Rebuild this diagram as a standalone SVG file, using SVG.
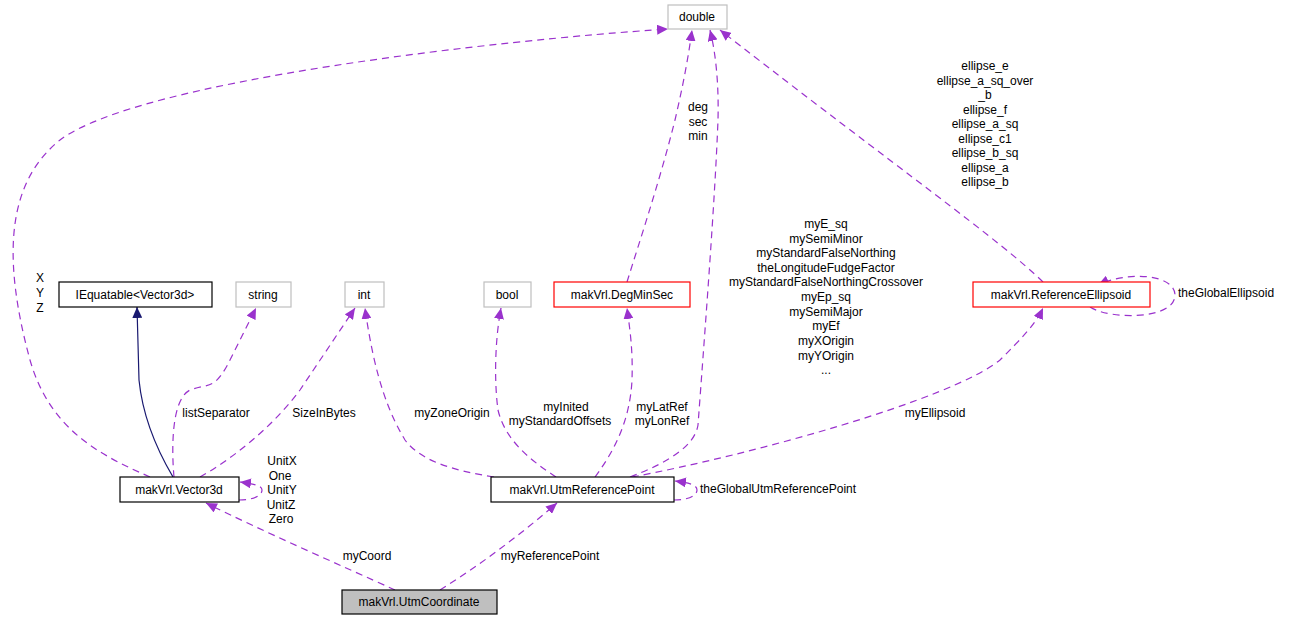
<svg xmlns="http://www.w3.org/2000/svg" width="1289" height="621" viewBox="0 0 1289 621">
<style>
text{font-family:"Liberation Sans",Arial,sans-serif;font-size:12px;fill:#000}
.c{text-anchor:middle}
.n{fill:#fff;stroke:#000;stroke-width:1.2}
.g{fill:#fff;stroke:#bfbfbf;stroke-width:1.2}
.r{fill:#fff;stroke:#ff0000;stroke-width:1.2}
.e{fill:none;stroke:#9a32cd;stroke-dasharray:7,5;stroke-width:1.2}
.s{fill:none;stroke:#191970;stroke-width:1.2}
</style>
<defs>
<marker id="p" markerWidth="12" markerHeight="10" refX="11" refY="5" orient="auto" markerUnits="userSpaceOnUse"><path d="M0,0 L11,5 L0,10 z" fill="#9a32cd"/></marker>
<marker id="b" markerWidth="12" markerHeight="10" refX="11" refY="5" orient="auto" markerUnits="userSpaceOnUse"><path d="M0,0 L11,5 L0,10 z" fill="#191970"/></marker>
</defs>
<g id="edges">
<path class="s" marker-end="url(#b)" d="M173,477 C160,455 143,420 139,380 L137,307"/>
<path class="e" marker-end="url(#p)" d="M174,477 C172,455 170,400 190,390 C210,383 215,390 230,360 L256,308"/>
<text class="c" x="216" y="417">listSeparator</text>
<path class="e" marker-end="url(#p)" d="M200,477 C230,460 270,430 300,390 L355,308"/>
<text class="c" x="324" y="417">SizeInBytes</text>
<path class="e" marker-end="url(#p)" d="M150,477 C100,455 50,430 30,360 C0,250 10,180 60,140 C140,80 500,40 668,29"/>
<text class="c" x="40" y="282">X</text><text class="c" x="40" y="297">Y</text><text class="c" x="40" y="312">Z</text>
<path class="e" marker-end="url(#p)" d="M239,500 C255,500 262,495 262,490 C262,486 255,484 240,482"/>
<text class="c" x="282" y="465">UnitX</text><text class="c" x="280" y="480">One</text><text class="c" x="282" y="494">UnitY</text><text class="c" x="281" y="509">UnitZ</text><text class="c" x="281" y="523">Zero</text>
<path class="e" marker-end="url(#p)" d="M395,590 C340,565 260,530 206,503"/>
<text class="c" x="367" y="560">myCoord</text>
<path class="e" marker-end="url(#p)" d="M440,590 C480,565 520,535 557,503"/>
<text class="c" x="550" y="560">myReferencePoint</text>
<path class="e" marker-end="url(#p)" d="M494,477 C450,470 420,460 405,440 C390,415 375,380 365,308"/>
<text class="c" x="452" y="417">myZoneOrigin</text>
<path class="e" marker-end="url(#p)" d="M556,477 C530,460 505,440 498,410 C494,380 495,340 501,308"/>
<text class="c" x="566" y="411">myInited</text><text class="c" x="560" y="425">myStandardOffsets</text>
<path class="e" marker-end="url(#p)" d="M595,477 C615,450 630,420 632,380 C633,350 630,330 627,308"/>
<text class="c" x="662" y="411">myLatRef</text><text class="c" x="662" y="425">myLonRef</text>
<path class="e" marker-end="url(#p)" d="M630,477 C670,462 695,445 698,425 C705,330 715,200 718,120 C719,80 715,50 710,30"/>
<g class="c"><text x="826" y="228">myE_sq</text><text x="826" y="243">mySemiMinor</text><text x="826" y="257">myStandardFalseNorthing</text><text x="826" y="272">theLongitudeFudgeFactor</text><text x="826" y="286">myStandardFalseNorthingCrossover</text><text x="826" y="301">myEp_sq</text><text x="826" y="316">mySemiMajor</text><text x="826" y="330">myEf</text><text x="826" y="345">myXOrigin</text><text x="826" y="360">myYOrigin</text><text x="826" y="374">...</text></g>
<path class="e" marker-end="url(#p)" d="M632,477 C750,455 950,400 1000,360 C1020,340 1035,325 1043,308"/>
<text class="c" x="935" y="417">myEllipsoid</text>
<path class="e" marker-end="url(#p)" d="M674,500 C690,500 697,495 697,490 C697,485 690,483 675,481"/>
<text x="700" y="493">theGlobalUtmReferencePoint</text>
<path class="e" marker-end="url(#p)" d="M627,282 C640,240 660,180 675,120 C682,90 688,60 692,30"/>
<text class="c" x="698" y="111">deg</text><text class="c" x="698" y="126">sec</text><text class="c" x="698" y="140">min</text>
<path class="e" marker-end="url(#p)" d="M1043,282 C1000,240 900,170 720,30"/>
<g class="c"><text x="985" y="70">ellipse_e</text><text x="985" y="85">ellipse_a_sq_over</text><text x="985" y="99">_b</text><text x="985" y="114">ellipse_f</text><text x="985" y="128">ellipse_a_sq</text><text x="985" y="143">ellipse_c1</text><text x="985" y="157">ellipse_b_sq</text><text x="985" y="172">ellipse_a</text><text x="985" y="186">ellipse_b</text></g>
<path class="e" marker-end="url(#p)" d="M1090,307 C1110,320 1175,320 1175,295 C1175,275 1130,270 1098,285"/>
<text x="1178" y="297">theGlobalEllipsoid</text>
</g>
<g id="double"><rect class="g" x="668" y="5" width="59" height="24"/><text class="c" x="697" y="21">double</text></g>
<g id="iequatable"><rect class="n" x="59" y="282" width="153" height="25"/><text class="c" x="135" y="299">IEquatable&lt;Vector3d&gt;</text></g>
<g id="string"><rect class="g" x="236" y="282" width="55" height="25"/><text class="c" x="263" y="299">string</text></g>
<g id="int"><rect class="g" x="345" y="282" width="39" height="25"/><text class="c" x="364" y="299">int</text></g>
<g id="bool"><rect class="g" x="484" y="282" width="47" height="25"/><text class="c" x="507" y="299">bool</text></g>
<g id="degminsec"><rect class="r" x="554" y="282" width="136" height="25"/><text class="c" x="622" y="299">makVrl.DegMinSec</text></g>
<g id="refellipsoid"><rect class="r" x="973" y="282" width="177" height="25"/><text class="c" x="1061" y="299">makVrl.ReferenceEllipsoid</text></g>
<g id="vector3d"><rect class="n" x="120" y="477" width="119" height="25"/><text class="c" x="179" y="494">makVrl.Vector3d</text></g>
<g id="utmrefpoint"><rect class="n" x="491" y="477" width="183" height="25"/><text class="c" x="582" y="494">makVrl.UtmReferencePoint</text></g>
<g id="utmcoord"><rect x="342" y="590" width="155" height="24" fill="#bfbfbf" stroke="#000" stroke-width="1.2"/><text class="c" x="419" y="606">makVrl.UtmCoordinate</text></g>
</svg>
